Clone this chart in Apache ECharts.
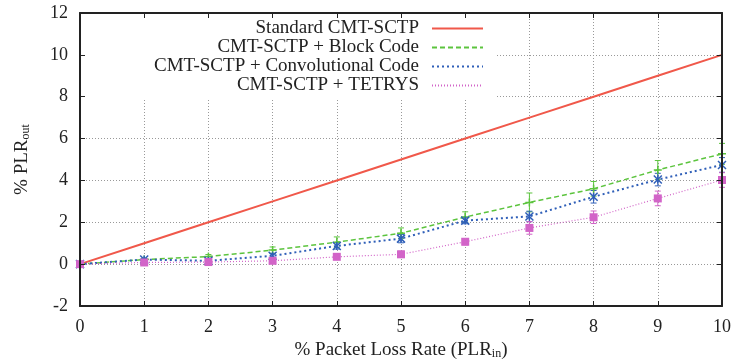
<!DOCTYPE html>
<html>
<head>
<meta charset="utf-8">
<script src="https://cdn.jsdelivr.net/npm/echarts@6/dist/echarts.min.js"></script>
<style>
html, body { margin: 0; padding: 0; background: #fff; }
#chart { width: 736px; height: 360px; }
</style>
</head>
<body>
<div id="chart"></div>
<script>
// packet loss rate in (%)
var plrIn = [0, 1, 2, 3, 4, 5, 6, 7, 8, 9, 10];

var standard = [0, 1, 2, 3, 4, 5, 6, 7, 8, 9, 10];
var blockCode = [0, 0.22, 0.36, 0.67, 1.05, 1.48, 2.25, 2.95, 3.6, 4.5, 5.27];
var convCode = [0, 0.22, 0.16, 0.4, 0.87, 1.22, 2.08, 2.28, 3.22, 4.04, 4.74];
var tetrys = [0, 0.08, 0.1, 0.16, 0.35, 0.47, 1.07, 1.73, 2.24, 3.14, 4.02];

// half heights of the error bars
var blockErr = [0, 0.06, 0.1, 0.15, 0.25, 0.25, 0.25, 0.45, 0.35, 0.45, 0.5];
var convErr = [0, 0.05, 0.05, 0.1, 0.15, 0.2, 0.15, 0.25, 0.3, 0.3, 0.35];
var tetrysErr = [0, 0.05, 0.05, 0.1, 0.1, 0.15, 0.15, 0.3, 0.3, 0.35, 0.35];

var names = ['Standard CMT-SCTP', 'CMT-SCTP + Block Code', 'CMT-SCTP + Convolutional Code', 'CMT-SCTP + TETRYS'];
var yTicks = [-2, 0, 2, 4, 6, 8, 10, 12];

var cRed = '#f0584a', cGreen = '#5cc43e', cBlue = '#2f5fb8', cPink = '#d264c8';
var font = 'Liberation Serif';

function pairs(vals) {
    return plrIn.map(function (x, i) { return [x, vals[i]]; });
}
function bars(vals, errs) {
    return plrIn.map(function (x, i) { return [x, vals[i] - errs[i], vals[i] + errs[i]]; });
}
function errorBars(color) {
    return function (params, api) {
        var x = api.value(0);
        var lo = api.coord([x, api.value(1)]);
        var hi = api.coord([x, api.value(2)]);
        var w = 3;
        var st = { stroke: color, lineWidth: 1 };
        return {
            type: 'group',
            children: [
                { type: 'line', shape: { x1: lo[0], y1: lo[1], x2: hi[0], y2: hi[1] }, style: st },
                { type: 'line', shape: { x1: lo[0] - w, y1: lo[1], x2: lo[0] + w, y2: lo[1] }, style: st },
                { type: 'line', shape: { x1: hi[0] - w, y1: hi[1], x2: hi[0] + w, y2: hi[1] }, style: st }
            ]
        };
    };
}

var chart = echarts.init(document.getElementById('chart'), null, { renderer: 'canvas' });

var frameLine = { show: true, onZero: false, lineStyle: { color: '#222', width: 2 } };
var noLine = { show: false, onZero: false };
var inTick = { show: true, inside: true, length: 5, lineStyle: { color: '#222', width: 1 } };
var gridLine = { show: true, lineStyle: { color: '#999', width: 1, type: [1, 2] } };
var sub = { fontFamily: font, fontSize: 12, color: '#222', verticalAlign: 'bottom', padding: [7, 0, 0, 0] };

var option = {
    animation: false,
    backgroundColor: '#fff',
    textStyle: { fontFamily: font },
    grid: { left: 80, right: 14, top: 13, bottom: 54, outerBoundsMode: 'none', containLabel: false },
    legend: {
        data: names,
        orient: 'vertical',
        align: 'right',
        right: 240,
        top: 14,
        padding: [5, 12, 3, 74],
        itemWidth: 51,
        itemHeight: 14,
        itemGap: 0,
        backgroundColor: '#fff',
        z: 4,
        itemStyle: { opacity: 0 },
        textStyle: { fontFamily: font, fontSize: 19, color: '#222', padding: [0, 8, 0, 0] },
        selectedMode: false
    },
    xAxis: [{
        type: 'value', min: 0, max: 10, interval: 1, position: 'bottom', z: 10,
        name: '% Packet Loss Rate (PLR{s|in})',
        nameLocation: 'middle', nameGap: 34,
        nameTextStyle: { fontFamily: font, fontSize: 19, color: '#222', rich: { s: sub } },
        axisLine: frameLine, axisTick: inTick,
        axisLabel: { fontFamily: font, fontSize: 18, color: '#222', margin: 12 },
        splitLine: { show: false }
    }, {
        type: 'value', min: 0, max: 10, interval: 1, position: 'top', z: 10,
        axisLine: frameLine, axisTick: inTick,
        axisLabel: { show: false }, splitLine: { show: false }
    }, {
        type: 'value', min: 0, max: 10, interval: 1, position: 'bottom', z: 0,
        axisLine: noLine, axisTick: { show: false },
        axisLabel: { show: false }, splitLine: gridLine
    }],
    yAxis: [{
        type: 'value', min: -2, max: 12, interval: 2, position: 'left', z: 10,
        name: '% PLR{s|out}',
        nameLocation: 'middle', nameGap: 48,
        nameTextStyle: { fontFamily: font, fontSize: 19, color: '#222', rich: { s: sub } },
        axisLine: frameLine, axisTick: inTick,
        axisLabel: {
            fontFamily: font, fontSize: 18, color: '#222', margin: 12,
            formatter: function (v) { return yTicks.indexOf(v) >= 0 ? String(v) : ''; }
        },
        splitLine: { show: false }
    }, {
        type: 'value', min: -2, max: 12, interval: 2, position: 'right', z: 10,
        axisLine: frameLine, axisTick: inTick,
        axisLabel: { show: false }, splitLine: { show: false }
    }, {
        type: 'value', min: -2, max: 12, interval: 2, position: 'left', z: 0,
        axisLine: noLine, axisTick: { show: false },
        axisLabel: { show: false }, splitLine: gridLine
    }],
    series: [{
        name: names[0], type: 'line', data: pairs(standard),
        symbol: 'none', z: 3,
        lineStyle: { color: cRed, width: 2 },
        itemStyle: { color: cRed }
    }, {
        name: names[1], type: 'line', data: pairs(blockCode),
        symbol: 'path://M5,0L5,10M0,5L10,5', symbolSize: 8, z: 3,
        lineStyle: { color: cGreen, width: 1.5, type: [5, 3] },
        itemStyle: { color: cGreen, borderColor: cGreen, borderWidth: 1.5 }
    }, {
        name: names[2], type: 'line', data: pairs(convCode),
        symbol: 'path://M0,0L10,10M10,0L0,10M5,0L5,10', symbolSize: 8, z: 3,
        lineStyle: { color: cBlue, width: 2, type: [2, 3] },
        itemStyle: { color: cBlue, borderColor: cBlue, borderWidth: 1.5 }
    }, {
        name: names[3], type: 'line', data: pairs(tetrys),
        symbol: 'rect', symbolSize: 8, z: 3,
        lineStyle: { color: cPink, width: 1.2, type: [1, 2] },
        itemStyle: { color: cPink }
    }, {
        type: 'custom', data: bars(blockCode, blockErr), renderItem: errorBars(cGreen), z: 3, silent: true
    }, {
        type: 'custom', data: bars(convCode, convErr), renderItem: errorBars(cBlue), z: 3, silent: true
    }, {
        type: 'custom', data: bars(tetrys, tetrysErr), renderItem: errorBars(cPink), z: 3, silent: true
    }]
};

chart.setOption(option);
</script>
</body>
</html>
